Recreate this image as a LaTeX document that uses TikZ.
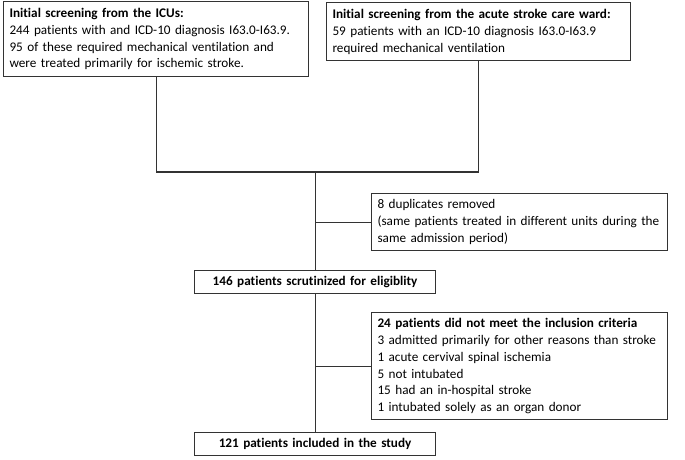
\documentclass[tikz,border=0pt]{standalone}
\usepackage{fontspec}
\setmainfont[Ligatures=NoCommon]{Carlito}
\begin{document}
\begin{tikzpicture}[x=1pt,y=-1pt,
  box/.style={draw=black!80, line width=1.1pt, align=left, inner xsep=6pt, inner ysep=0pt,
    font=\fontsize{13.2}{16.9}\selectfont, anchor=north west},
  cbox/.style={box, align=center},
  conn/.style={draw=black!80, line width=1.1pt}]
\useasboundingbox (0,0) rectangle (685,459);
\node[box, text width=293pt, minimum width=305pt, minimum height=75pt] (icu) at (3,1)
  {\textbf{Initial screening from the ICUs:}\\244 patients with and ICD-10 diagnosis I63.0-I63.9.\\95 of these required mechanical ventilation and\\were treated primarily for ischemic stroke.};
\node[box, text width=292pt, minimum width=304pt, minimum height=58pt] (ward) at (326,2)
  {\textbf{Initial screening from the acute stroke care ward:}\\59 patients with an ICD-10 diagnosis I63.0-I63.9\\required mechanical ventilation};
\node[box, text width=284pt, minimum width=296pt, minimum height=57pt] (dup) at (371,193)
  {8 duplicates removed\\(same patients treated in different units during the\\same admission period)};
\node[cbox, text width=229pt, minimum width=241pt, minimum height=23pt] (elig) at (194,270)
  {\textbf{146 patients scrutinized for eligiblity}};
\node[box, text width=284pt, minimum width=296pt, minimum height=107pt] (excl) at (371,312)
  {\textbf{24 patients did not meet the inclusion criteria}\\3 admitted primarily for other reasons than stroke\\1 acute cervival spinal ischemia\\5 not intubated\\15 had an in-hospital stroke\\1 intubated solely as an organ donor};
\node[cbox, text width=229pt, minimum width=241pt, minimum height=23pt] (incl) at (194,432)
  {\textbf{121 patients included in the study}};
\coordinate (j) at (elig.north |- 0,172);
\draw[conn] (icu.south) |- (ward.south |- j) -- (ward.south);
\draw[conn] (j) -- (elig.north);
\draw[conn] (elig.south) -- (incl.north);
\draw[conn] (dup.west) -- (dup.west -| j);
\draw[conn] (excl.west) -- (excl.west -| j);
\end{tikzpicture}
\end{document}
